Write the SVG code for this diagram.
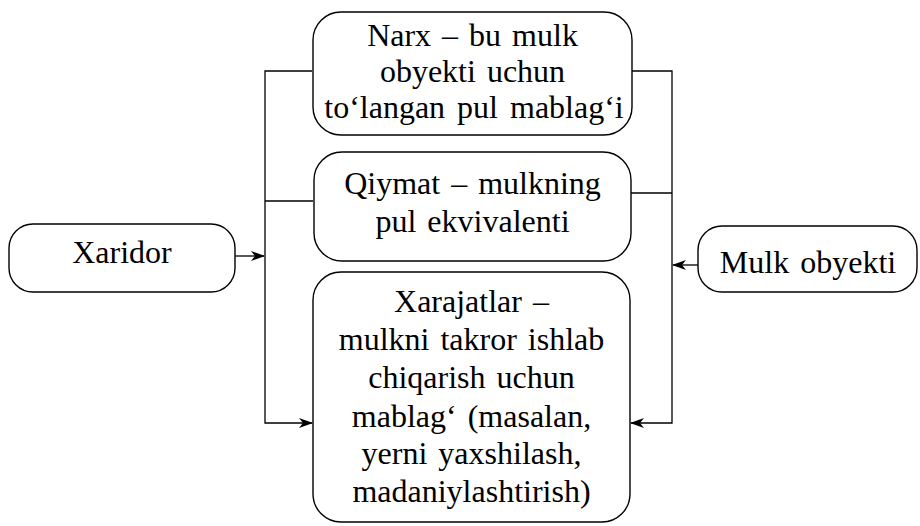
<svg xmlns="http://www.w3.org/2000/svg" width="920" height="526" viewBox="0 0 920 526">
  <style>
    .box { fill: #fff; stroke: #000; stroke-width: 1.4; }
    .wire { fill: none; stroke: #000; stroke-width: 1.3; }
    .lbl { font-size: 32px; fill: #000; text-anchor: middle; }
  </style>
  <defs>
    <marker id="stealth" viewBox="0 0 14 10" refX="13" refY="5" markerWidth="14" markerHeight="10" markerUnits="userSpaceOnUse" orient="auto">
      <path d="M0,0 L14,5 L0,10 L4,5 Z" fill="#000"/>
    </marker>
  </defs>

  <g id="connectors">
    <!-- left bus from Xaridor -->
    <path class="wire" d="M312,71 H265 V423 H312" marker-end="url(#stealth)"/>
    <path class="wire" d="M313,201 H265"/>
    <path class="wire" d="M235,256 H264" marker-end="url(#stealth)"/>
    <!-- right bus from Mulk obyekti -->
    <path class="wire" d="M632,71 H672 V423 H631" marker-end="url(#stealth)"/>
    <path class="wire" d="M631,193 H672"/>
    <path class="wire" d="M698,265 H673" marker-end="url(#stealth)"/>
  </g>

  <g id="xaridor">
    <rect class="box" x="9" y="224" width="226" height="68" rx="24"/>
    <text class="lbl" font-family="Tinos" x="122" y="263">Xaridor</text>
  </g>

  <g id="narx">
    <rect class="box" x="313" y="12" width="319" height="123" rx="28"/>
    <text class="lbl" font-family="Tinos" x="472.5" y="46" word-spacing="3">Narx – bu mulk</text>
    <text class="lbl" font-family="Tinos" x="472.5" y="82" word-spacing="3">obyekti uchun</text>
    <text class="lbl" font-family="Tinos" x="474" y="118" word-spacing="4">to‘langan pul mablag‘i</text>
  </g>

  <g id="qiymat">
    <rect class="box" x="314" y="152" width="317" height="109" rx="28"/>
    <text class="lbl" font-family="Tinos" x="472.5" y="194" word-spacing="3">Qiymat – mulkning</text>
    <text class="lbl" font-family="Tinos" x="472.5" y="232" word-spacing="3">pul ekvivalenti</text>
  </g>

  <g id="xarajatlar">
    <rect class="box" x="313" y="272" width="317" height="250" rx="28"/>
    <text class="lbl" font-family="Tinos" x="471.5" y="312" word-spacing="3">Xarajatlar –</text>
    <text class="lbl" font-family="Tinos" x="471.5" y="350" word-spacing="3">mulkni takror ishlab</text>
    <text class="lbl" font-family="Tinos" x="471.5" y="388" word-spacing="3">chiqarish uchun</text>
    <text class="lbl" font-family="Tinos" x="471.5" y="427" word-spacing="3">mablag‘ (masalan,</text>
    <text class="lbl" font-family="Tinos" x="471.5" y="464" word-spacing="3">yerni yaxshilash,</text>
    <text class="lbl" font-family="Tinos" x="471.5" y="502">madaniylashtirish)</text>
  </g>

  <g id="mulk-obyekti">
    <rect class="box" x="698" y="226" width="219" height="66" rx="24"/>
    <text class="lbl" font-family="Tinos" x="808" y="273" word-spacing="3">Mulk obyekti</text>
  </g>
</svg>
